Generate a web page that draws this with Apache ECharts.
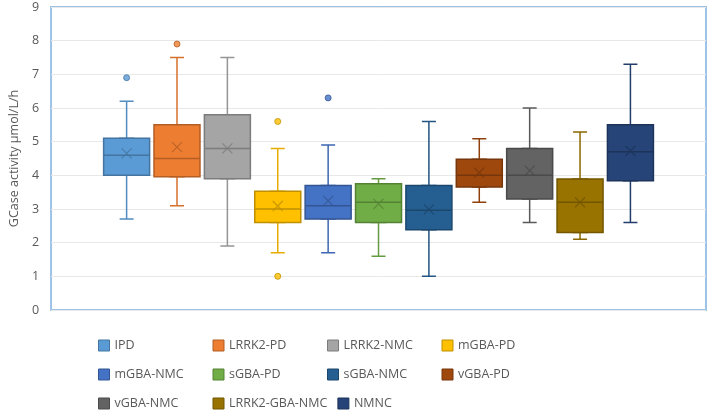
<!DOCTYPE html>
<html><head><meta charset="utf-8">
<script src="https://cdn.jsdelivr.net/npm/echarts@6/dist/echarts.min.js"></script>
<style>html,body{margin:0;padding:0;background:#fff}#c{width:709px;height:412px}</style>
</head><body><div id="c"></div>
<script>
const groups = ['IPD','LRRK2-PD','LRRK2-NMC','mGBA-PD','mGBA-NMC','sGBA-PD','sGBA-NMC','vGBA-PD','vGBA-NMC','LRRK2-GBA-NMC','NMNC'];
const whiskerLow  = [2.7, 3.1, 1.9, 1.7, 1.7, 1.6, 1.0, 3.2, 2.6, 2.1, 2.6];
const q1          = [4.0, 3.96, 3.9, 2.6, 2.7, 2.6, 2.38, 3.65, 3.3, 2.3, 3.84];
const median      = [4.6, 4.5, 4.8, 3.0, 3.1, 3.2, 2.96, 4.0, 4.0, 3.2, 4.7];
const q3          = [5.1, 5.5, 5.8, 3.53, 3.7, 3.75, 3.7, 4.48, 4.8, 3.89, 5.5];
const whiskerHigh = [6.2, 7.5, 7.5, 4.8, 4.9, 3.9, 5.6, 5.09, 6.0, 5.29, 7.3];
const means       = [4.65, 4.84, 4.8, 3.09, 3.24, 3.15, 2.99, 4.08, 4.14, 3.2, 4.73];
const outliers    = [[6.9], [7.9], [], [5.6, 1.0], [6.3], [], [], [], [], [], []];
const yTicks = [0,1,2,3,4,5,6,7,8,9];

const colors = ['#5B9BD5','#ED7D31','#A5A5A5','#FFC000','#4472C4','#70AD47','#255E91','#9E480E','#636363','#997300','#264478'];
function shade(hex, f) {
  const n = parseInt(hex.slice(1), 16);
  const r = Math.round(((n >> 16) & 255) * f), g = Math.round(((n >> 8) & 255) * f), b = Math.round((n & 255) * f);
  return 'rgb(' + r + ',' + g + ',' + b + ')';
}
const slots = ['', ...groups, ''];
const FONT = 'Open Sans';

// two hidden category axes per group: one for the whiskers, one for the box
const xAxes = [];
groups.forEach(() => {
  xAxes.push({ type: 'category', data: slots, gridIndex: 0, show: false });
  xAxes.push({ type: 'category', data: slots, gridIndex: 0, show: false });
});

const series = [];
groups.forEach((g, i) => {
  const dark = shade(colors[i], 0.75);
  const mid = shade(colors[i], 0.9);
  // whiskers with short caps
  series.push({
    name: g + ' whiskers', type: 'boxplot', xAxisIndex: 2 * i,
    encode: { x: 0, y: [1, 2, 3, 4, 5] },
    data: [[i + 1, whiskerLow[i], q1[i], median[i], q3[i], whiskerHigh[i]]],
    boxWidth: [14, 14],
    itemStyle: { color: colors[i], borderColor: mid, borderWidth: 1.5 },
    emphasis: { disabled: true }, silent: true, z: 2
  });
  // box
  series.push({
    name: g, type: 'boxplot', xAxisIndex: 2 * i + 1,
    encode: { x: 0, y: [1, 2, 3, 4, 5] },
    data: [[i + 1, q1[i], q1[i], median[i], q3[i], q3[i]]],
    boxWidth: [46, 46],
    itemStyle: { color: colors[i], borderColor: dark, borderWidth: 1.5 },
    emphasis: { disabled: true }, silent: true, z: 3
  });
  series.push({
    name: g + ' mean', type: 'scatter', xAxisIndex: 2 * i + 1,
    data: [[i + 1, means[i]]],
    symbol: 'path://M0,0L10,10M10,0L0,10', symbolSize: 10,
    itemStyle: { color: 'none', borderColor: dark, borderWidth: 1.2 },
    z: 5, silent: true
  });
  if (outliers[i].length) {
    series.push({
      name: g + ' outliers', type: 'scatter', xAxisIndex: 2 * i + 1,
      data: outliers[i].map(v => [i + 1, v]),
      symbol: 'circle', symbolSize: 6,
      itemStyle: { color: colors[i], borderColor: dark, borderWidth: 1 },
      z: 5, silent: true
    });
  }
});

const chart = echarts.init(document.getElementById('c'), null, { renderer: 'canvas' });
chart.setOption({
  animation: false,
  backgroundColor: '#fff',
  grid: { left: 44, right: 3, top: 7, bottom: 102, show: true, borderColor: '#9DC3E6', borderWidth: 2, containLabel: false },
  xAxis: xAxes,
  yAxis: {
    type: 'value', min: yTicks[0], max: yTicks[yTicks.length - 1], interval: 1,
    name: 'GCase activity µmol/L/h', nameLocation: 'middle', nameGap: 28, nameRotate: 90,
    nameTextStyle: { fontFamily: FONT, fontSize: 12.5, color: '#595959' },
    axisLine: { show: false }, axisTick: { show: false },
    axisLabel: { fontFamily: FONT, fontSize: 12.5, color: '#595959', margin: 12 },
    splitLine: { lineStyle: { color: '#E8E8E8', width: 1 } }
  },
  legend: {
    data: groups.map((g, i) => ({
      name: g,
      itemStyle: { color: colors[i], borderColor: shade(colors[i], 0.75), borderWidth: 1 }
    })),
    left: 98, top: 336, width: 470, padding: 0,
    orient: 'horizontal', icon: 'rect', itemWidth: 11, itemHeight: 11, itemGap: 10,
    selectedMode: false,
    textStyle: { fontFamily: FONT, fontSize: 12.5, color: '#595959', width: 88, overflow: 'none', lineHeight: 19 }
  },
  series: series
});
</script></body></html>
